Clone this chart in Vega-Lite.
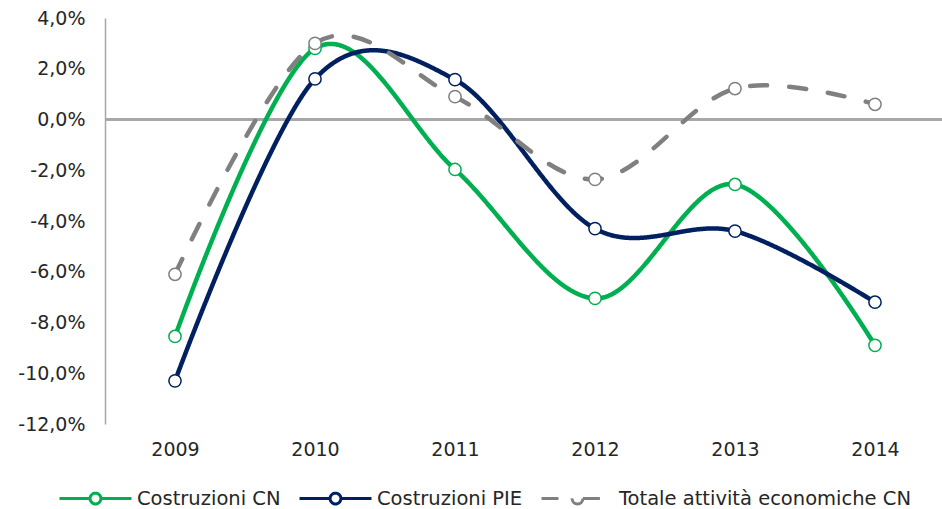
{
  "$schema": "https://vega.github.io/schema/vega-lite/v6.json",
  "width": 840,
  "height": 406,
  "autosize": "none",
  "padding": {"left": 105, "top": 18, "right": 0, "bottom": 85},
  "config": {
    "view": {"stroke": null},
    "font": "DejaVu Sans"
  },
  "data": {
    "values": [
      {"serie": "Costruzioni CN", "anno": "2009", "valore": -8.55},
      {"serie": "Costruzioni CN", "anno": "2010", "valore": 2.8},
      {"serie": "Costruzioni CN", "anno": "2011", "valore": -1.97},
      {"serie": "Costruzioni CN", "anno": "2012", "valore": -7.05},
      {"serie": "Costruzioni CN", "anno": "2013", "valore": -2.56},
      {"serie": "Costruzioni CN", "anno": "2014", "valore": -8.9},
      {"serie": "Costruzioni PIE", "anno": "2009", "valore": -10.3},
      {"serie": "Costruzioni PIE", "anno": "2010", "valore": 1.6},
      {"serie": "Costruzioni PIE", "anno": "2011", "valore": 1.57},
      {"serie": "Costruzioni PIE", "anno": "2012", "valore": -4.3},
      {"serie": "Costruzioni PIE", "anno": "2013", "valore": -4.4},
      {"serie": "Costruzioni PIE", "anno": "2014", "valore": -7.2},
      {"serie": "Totale attività economiche CN", "anno": "2009", "valore": -6.1},
      {"serie": "Totale attività economiche CN", "anno": "2010", "valore": 3.0},
      {"serie": "Totale attività economiche CN", "anno": "2011", "valore": 0.9},
      {"serie": "Totale attività economiche CN", "anno": "2012", "valore": -2.36},
      {"serie": "Totale attività economiche CN", "anno": "2013", "valore": 1.22},
      {"serie": "Totale attività economiche CN", "anno": "2014", "valore": 0.6}
    ]
  },
  "layer": [
    {
      "mark": {"type": "rule", "color": "#A6A6A6", "strokeWidth": 1.5},
      "encoding": {
        "y": {"datum": 0, "type": "quantitative", "title": null}
      }
    },
    {
      "mark": {"type": "line", "interpolate": "cardinal", "tension": 0, "strokeWidth": 4.5, "strokeCap": "round"},
      "encoding": {
        "x": {"field": "anno", "type": "ordinal", "scale": {"type": "point", "padding": 0.5},
              "axis": {"domain": false, "ticks": false, "grid": false, "labelPadding": 16, "labelAngle": 0, "title": null,
                       "labelFont": "DejaVu Sans", "labelFontSize": 19, "labelColor": "#262626"}},
        "y": {"field": "valore", "type": "quantitative", "scale": {"domain": [-12, 4], "nice": false, "zero": false},
              "axis": {"values": [-12, -10, -8, -6, -4, -2, 0, 2, 4], "domain": true, "domainColor": "#A6A6A6", "domainWidth": 1.5, "labelPadding": 20,
                       "ticks": false, "grid": false, "labelFont": "DejaVu Sans", "labelFontSize": 19, "labelColor": "#262626",
                       "labelExpr": "replace(replace(format(datum.value, '.1f'), '.', ','), '\u2212', '-') + '%'", "title": null}},
        "color": {"field": "serie", "type": "nominal",
                  "scale": {"domain": ["Costruzioni CN", "Costruzioni PIE", "Totale attività economiche CN"], "range": ["#00B050", "#002060", "#808080"]},
                  "legend": {"orient": "none", "legendX": -47, "legendY": 443, "direction": "horizontal", "title": null,
                             "labelFont": "DejaVu Sans", "labelFontSize": 19.5, "labelColor": "#262626", "labelLimit": 400,
                             "symbolType": "M-1,0L-0.15,0M0.15,0L1,0M0.15,0A0.15,0.15,0,1,1,-0.15,0A0.15,0.15,0,1,1,0.15,0Z",
                             "symbolSize": 5184, "symbolStrokeWidth": 3, "labelOffset": 4, "columnPadding": 12,
                             "encode": {"symbols": {"update": {"fill": {"value": "white"}, "fillOpacity": {"value": 1}, "strokeWidth": {"value": 3}, "opacity": {"value": 1}}}}}},
        "strokeDash": {"field": "serie", "type": "nominal", "legend": null,
                       "scale": {"domain": ["Costruzioni CN", "Costruzioni PIE", "Totale attività economiche CN"], "range": [[1, 0], [1, 0], [17, 22]]}}
      }
    },
    {
      "mark": {"type": "point", "filled": false, "fill": "white", "fillOpacity": 1, "opacity": 1, "size": 150, "strokeWidth": 1.5},
      "encoding": {
        "x": {"field": "anno", "type": "ordinal"},
        "y": {"field": "valore", "type": "quantitative"},
        "color": {"field": "serie", "type": "nominal"}
      }
    }
  ]
}
